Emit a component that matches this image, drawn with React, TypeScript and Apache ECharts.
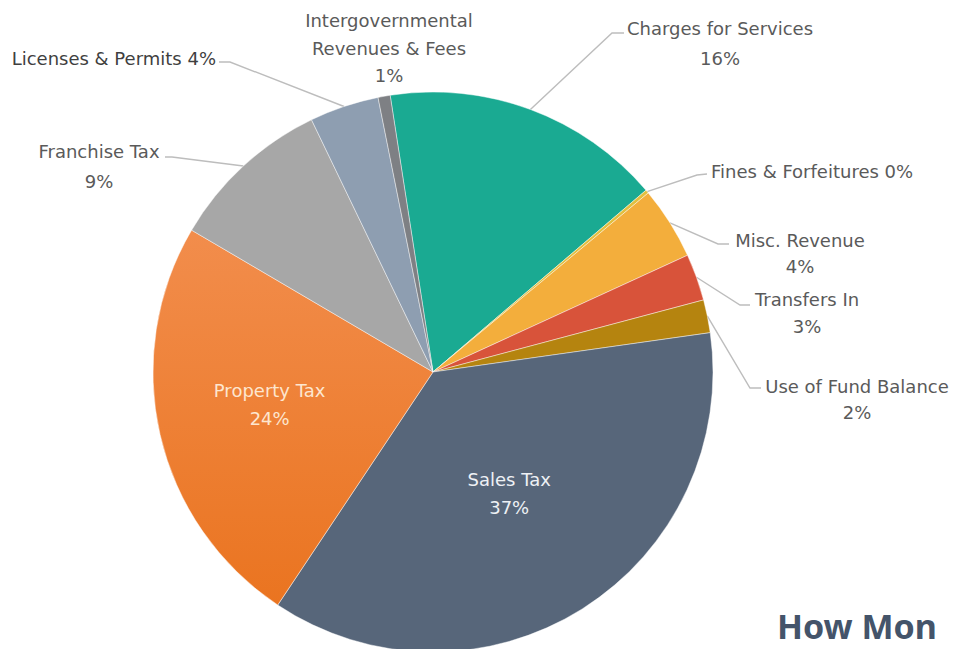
import React, { useEffect, useRef } from "react";
import * as echarts from "echarts";

// ---- data (clockwise from the top) ----
const categories = [
  "Charges for Services",
  "Fines & Forfeitures",
  "Misc. Revenue",
  "Transfers In",
  "Use of Fund Balance",
  "Sales Tax",
  "Property Tax",
  "Franchise Tax",
  "Licenses & Permits",
  "Intergovernmental Revenues & Fees",
];
const shares = [16.2, 0.2, 4.2, 2.7, 1.9, 36.6, 24.1, 9.4, 4.0, 0.7];
const titleText = "How Mon";

// ---- styles / layout ----
const sliceColors: Record<string, any> = {
  "Charges for Services": "#1aaa92",
  "Fines & Forfeitures": "#e2bf3e",
  "Misc. Revenue": "#f3ae3c",
  "Transfers In": "#d8533a",
  "Use of Fund Balance": "#b5840f",
  "Sales Tax": "#57667a",
  "Property Tax": new echarts.graphic.LinearGradient(0, 0, 0, 1, [
    { offset: 0, color: "#f28d4c" },
    { offset: 1, color: "#ea7420" },
  ]),
  "Franchise Tax": "#a7a7a7",
  "Licenses & Permits": "#8e9eb1",
  "Intergovernmental Revenues & Fees": "#7e8084",
};

type Lay = {
  text: string;
  sep: string;
  inside?: boolean;
  x?: number;
  y?: number;
  align?: string;
  vAlign?: string;
  lh: number;
  color?: string;
  noLine?: boolean;
  line?: number[][];
  dx?: number;
  dy?: number;
};

const layout: Record<string, Lay> = {
  "Charges for Services": { text: "Charges for Services", sep: "\n", x: 720, y: 13, align: "center", vAlign: "top", lh: 30, line: [[612, 33], [624, 33]] },
  "Fines & Forfeitures": { text: "Fines & Forfeitures", sep: " ", x: 711, y: 171, align: "left", vAlign: "middle", lh: 27, line: [[697, 175], [707, 174]] },
  "Misc. Revenue": { text: "Misc. Revenue", sep: "\n", x: 800, y: 227, align: "center", vAlign: "top", lh: 26, line: [[718, 244], [729, 244]] },
  "Transfers In": { text: "Transfers In", sep: "\n", x: 807, y: 286, align: "center", vAlign: "top", lh: 27, line: [[740, 305], [750, 305]] },
  "Use of Fund Balance": { text: "Use of Fund Balance", sep: "\n", x: 857, y: 373, align: "center", vAlign: "top", lh: 26, line: [[750, 388], [761, 388]] },
  "Sales Tax": { text: "Sales Tax", sep: "\n", inside: true, lh: 28, color: "#eef1f5", dx: 0, dy: 0 },
  "Property Tax": { text: "Property Tax", sep: "\n", inside: true, lh: 28, color: "#fde6cf", dx: -24, dy: 0 },
  "Franchise Tax": { text: "Franchise Tax", sep: "\n", x: 99, y: 136, align: "center", vAlign: "top", lh: 30, line: [[172, 157], [165, 157]] },
  "Licenses & Permits": { text: "Licenses & Permits", sep: " ", x: 216, y: 58, align: "right", vAlign: "middle", lh: 27, color: "#3f3f3f", line: [[230, 62], [219, 62]] },
  "Intergovernmental Revenues & Fees": { text: "Intergovernmental\nRevenues & Fees", sep: "\n", x: 389, y: 7, align: "center", vAlign: "top", lh: 27.5, noLine: true },
};

export default function App() {
  const ref = useRef<HTMLDivElement>(null);

  useEffect(() => {
    if (!ref.current) return;
    const chart = echarts.init(ref.current, undefined, { renderer: "svg" });

    const data = categories.map((name, i) => {
      const l = layout[name];
      return {
        name,
        value: shares[i],
        itemStyle: { color: sliceColors[name] },
        label: {
          position: l.inside ? "inside" : "outside",
          lineHeight: l.lh,
          color: l.color || "#5a5a5a",
        },
        labelLine: { show: !l.inside && !l.noLine },
      };
    });

    chart.setOption({
      animation: false,
      backgroundColor: "#ffffff",
      graphic: [
        {
          type: "text",
          left: 777,
          top: 609,
          style: {
            text: titleText,
            fontFamily: "Noto Sans",
            fontWeight: "bold",
            fontSize: 34,
            fill: "#44546a",
          },
        },
      ],
      series: [
        {
          type: "pie",
          center: [433, 372],
          radius: 280,
          startAngle: 98.8,
          clockwise: true,
          avoidLabelOverlap: false,
          emphasis: { disabled: true },
          itemStyle: { borderColor: "rgba(255,255,255,0.55)", borderWidth: 0.8 },
          label: {
            show: true,
            fontFamily: "DejaVu Sans",
            fontSize: 18,
            color: "#5a5a5a",
            formatter: (p: any) => {
              const l = layout[p.name];
              return l.text + l.sep + Math.round(p.percent) + "%";
            },
          },
          labelLine: { show: true, lineStyle: { color: "#bdbdbd", width: 1.4 } },
          labelLayout: (params: any) => {
            const l = layout[categories[params.dataIndex]];
            if (l.inside) return { dx: l.dx || 0, dy: l.dy || 0 };
            const res: any = { x: l.x, y: l.y, align: l.align, verticalAlign: l.vAlign };
            if (l.line && params.labelLinePoints && params.labelLinePoints[0]) {
              res.labelLinePoints = [params.labelLinePoints[0], l.line[0], l.line[1]];
            }
            return res;
          },
          data,
        },
      ],
    });

    return () => chart.dispose();
  }, []);

  return (
    <div
      ref={ref}
      style={{ position: "fixed", left: 0, top: 0, width: 954, height: 649, background: "#fff" }}
    />
  );
}
